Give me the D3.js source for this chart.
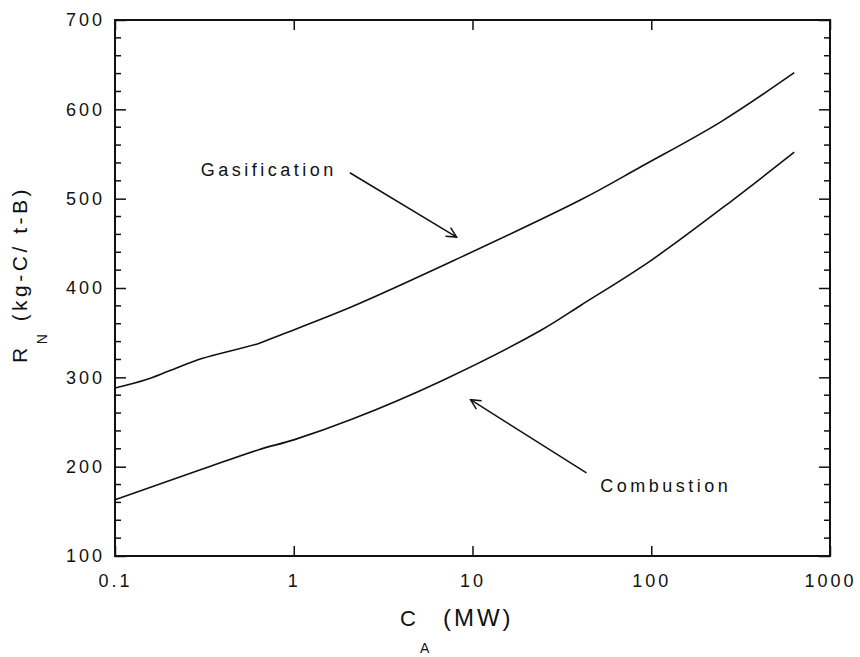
<!DOCTYPE html>
<html>
<head>
<meta charset="utf-8">
<script src="https://cdn.jsdelivr.net/npm/d3@7"></script>
<style>
  body { margin: 0; background: #fff; }
  text { font-family: "Liberation Sans", Arial, sans-serif; fill: #111; }
</style>
</head>
<body>
<script>
// capacity C_A (MW), log axis
var xTicks = [0.1, 1, 10, 100, 1000];
var yTicks = [100, 200, 300, 400, 500, 600, 700];

// Gasification curve
var gasX = [0.1, 0.147, 0.2, 0.306, 0.637, 0.857, 2.11, 7.9, 40.6, 88, 245, 631];
var gasY = [288, 297, 307, 321, 338, 348, 379, 431, 499, 536, 586, 641];

// Combustion curve
var combX = [0.1, 0.306, 0.637, 1.0, 2.11, 6.7, 24.3, 40.6, 100, 288, 631];
var combY = [163, 197, 219, 230, 253, 296, 353, 381, 431, 499, 552];

// labels with arrows: text position, arrow start, arrow tip (data units)
var labels = ["Gasification", "Combustion"];
var labelPos = [[1.74, 525, "end"], [51.9, 172, "start"]];
var arrowFrom = [[2.06, 529], [43.4, 193]];
var arrowTo = [[8.15, 457], [9.75, 275]];

var w = 860, h = 657;
var mLeft = 115, mRight = 830, mTop = 20, mBottom = 556;

var svg = d3.select("body")
  .append("svg")
  .attr("width", w)
  .attr("height", h);

var x = d3.scaleLog().domain([0.1, 1000]).range([mLeft, mRight]);
var y = d3.scaleLinear().domain([100, 700]).range([mBottom, mTop]);

// arrow head
svg.append("defs").append("marker")
  .attr("id", "head")
  .attr("viewBox", "0 0 12 12")
  .attr("refX", 11).attr("refY", 6)
  .attr("markerWidth", 12).attr("markerHeight", 12)
  .attr("markerUnits", "userSpaceOnUse")
  .attr("orient", "auto")
  .append("path")
  .attr("d", "M1,1 L11,6 L1,11")
  .attr("fill", "none")
  .attr("stroke", "#111")
  .attr("stroke-width", 1.5);

// minor y ticks every 20
var minor = d3.range(120, 700, 20).filter(function(d) { return d % 100 != 0; });

svg.selectAll("line.minorL")
  .data(minor)
  .enter()
  .append("line")
  .attr("x1", mLeft).attr("x2", mLeft + 6)
  .attr("y1", function(d) { return y(d); })
  .attr("y2", function(d) { return y(d); })
  .attr("stroke", "#111").attr("stroke-width", 1.5);

svg.selectAll("line.minorR")
  .data(minor)
  .enter()
  .append("line")
  .attr("x1", mRight).attr("x2", mRight - 6)
  .attr("y1", function(d) { return y(d); })
  .attr("y2", function(d) { return y(d); })
  .attr("stroke", "#111").attr("stroke-width", 1.5);

var fmt = function(d) { return String(d); };

svg.append("g")
  .attr("transform", "translate(0," + mBottom + ")")
  .call(d3.axisBottom(x).tickValues(xTicks).tickFormat(fmt).tickSize(-10).tickPadding(18));

svg.append("g")
  .attr("transform", "translate(0," + mTop + ")")
  .call(d3.axisTop(x).tickValues(xTicks).tickFormat("").tickSize(-10));

svg.append("g")
  .attr("transform", "translate(" + mLeft + ",0)")
  .call(d3.axisLeft(y).tickValues(yTicks).tickFormat(fmt).tickSize(-11).tickPadding(10));

svg.append("g")
  .attr("transform", "translate(" + mRight + ",0)")
  .call(d3.axisRight(y).tickValues(yTicks).tickFormat("").tickSize(-11));

svg.selectAll(".domain").remove();
svg.selectAll(".tick line").attr("stroke", "#111").attr("stroke-width", 1.5);
svg.selectAll(".tick text")
  .attr("font-size", 18)
  .attr("letter-spacing", 3)
  .attr("fill", "#111")
  .style("font-family", "'Liberation Sans', Arial, sans-serif");

// frame
svg.append("rect")
  .attr("x", mLeft).attr("y", mTop)
  .attr("width", mRight - mLeft).attr("height", mBottom - mTop)
  .attr("fill", "none")
  .attr("stroke", "#111")
  .attr("stroke-width", 2);

// curves
var line = d3.line()
  .x(function(d) { return x(d[0]); })
  .y(function(d) { return y(d[1]); })
  .curve(d3.curveCatmullRom.alpha(0.5));

var series = [d3.zip(gasX, gasY), d3.zip(combX, combY)];

svg.selectAll("path.curve")
  .data(series)
  .enter()
  .append("path")
  .attr("class", "curve")
  .attr("d", line)
  .attr("fill", "none")
  .attr("stroke", "#111")
  .attr("stroke-width", 1.6);

// annotations
labels.forEach(function(t, i) {
  svg.append("text")
    .attr("x", x(labelPos[i][0]))
    .attr("y", y(labelPos[i][1]))
    .attr("text-anchor", labelPos[i][2])
    .attr("font-size", 18)
    .attr("letter-spacing", 3.5)
    .text(t);

  svg.append("line")
    .attr("x1", x(arrowFrom[i][0])).attr("y1", y(arrowFrom[i][1]))
    .attr("x2", x(arrowTo[i][0])).attr("y2", y(arrowTo[i][1]))
    .attr("stroke", "#111")
    .attr("stroke-width", 1.5)
    .attr("marker-end", "url(#head)");
});

// axis titles
var xt = svg.append("text")
  .attr("x", 400)
  .attr("y", 626)
  .attr("font-size", 22)
  .attr("letter-spacing", 4);
xt.append("tspan").text("C");
xt.append("tspan").attr("font-size", 14).attr("dy", 27).text("A");
xt.append("tspan").attr("dy", -27).attr("font-size", 24).attr("letter-spacing", 3).text(" (MW)");

var yt = svg.append("text")
  .attr("transform", "translate(27,363) rotate(-90)")
  .attr("font-size", 21)
  .attr("letter-spacing", 3.5);
yt.append("tspan").text("R");
yt.append("tspan").attr("font-size", 14).attr("dy", 20).text("N");
yt.append("tspan").attr("dy", -20).text(" (kg-C/ t-B)");
</script>
</body>
</html>
